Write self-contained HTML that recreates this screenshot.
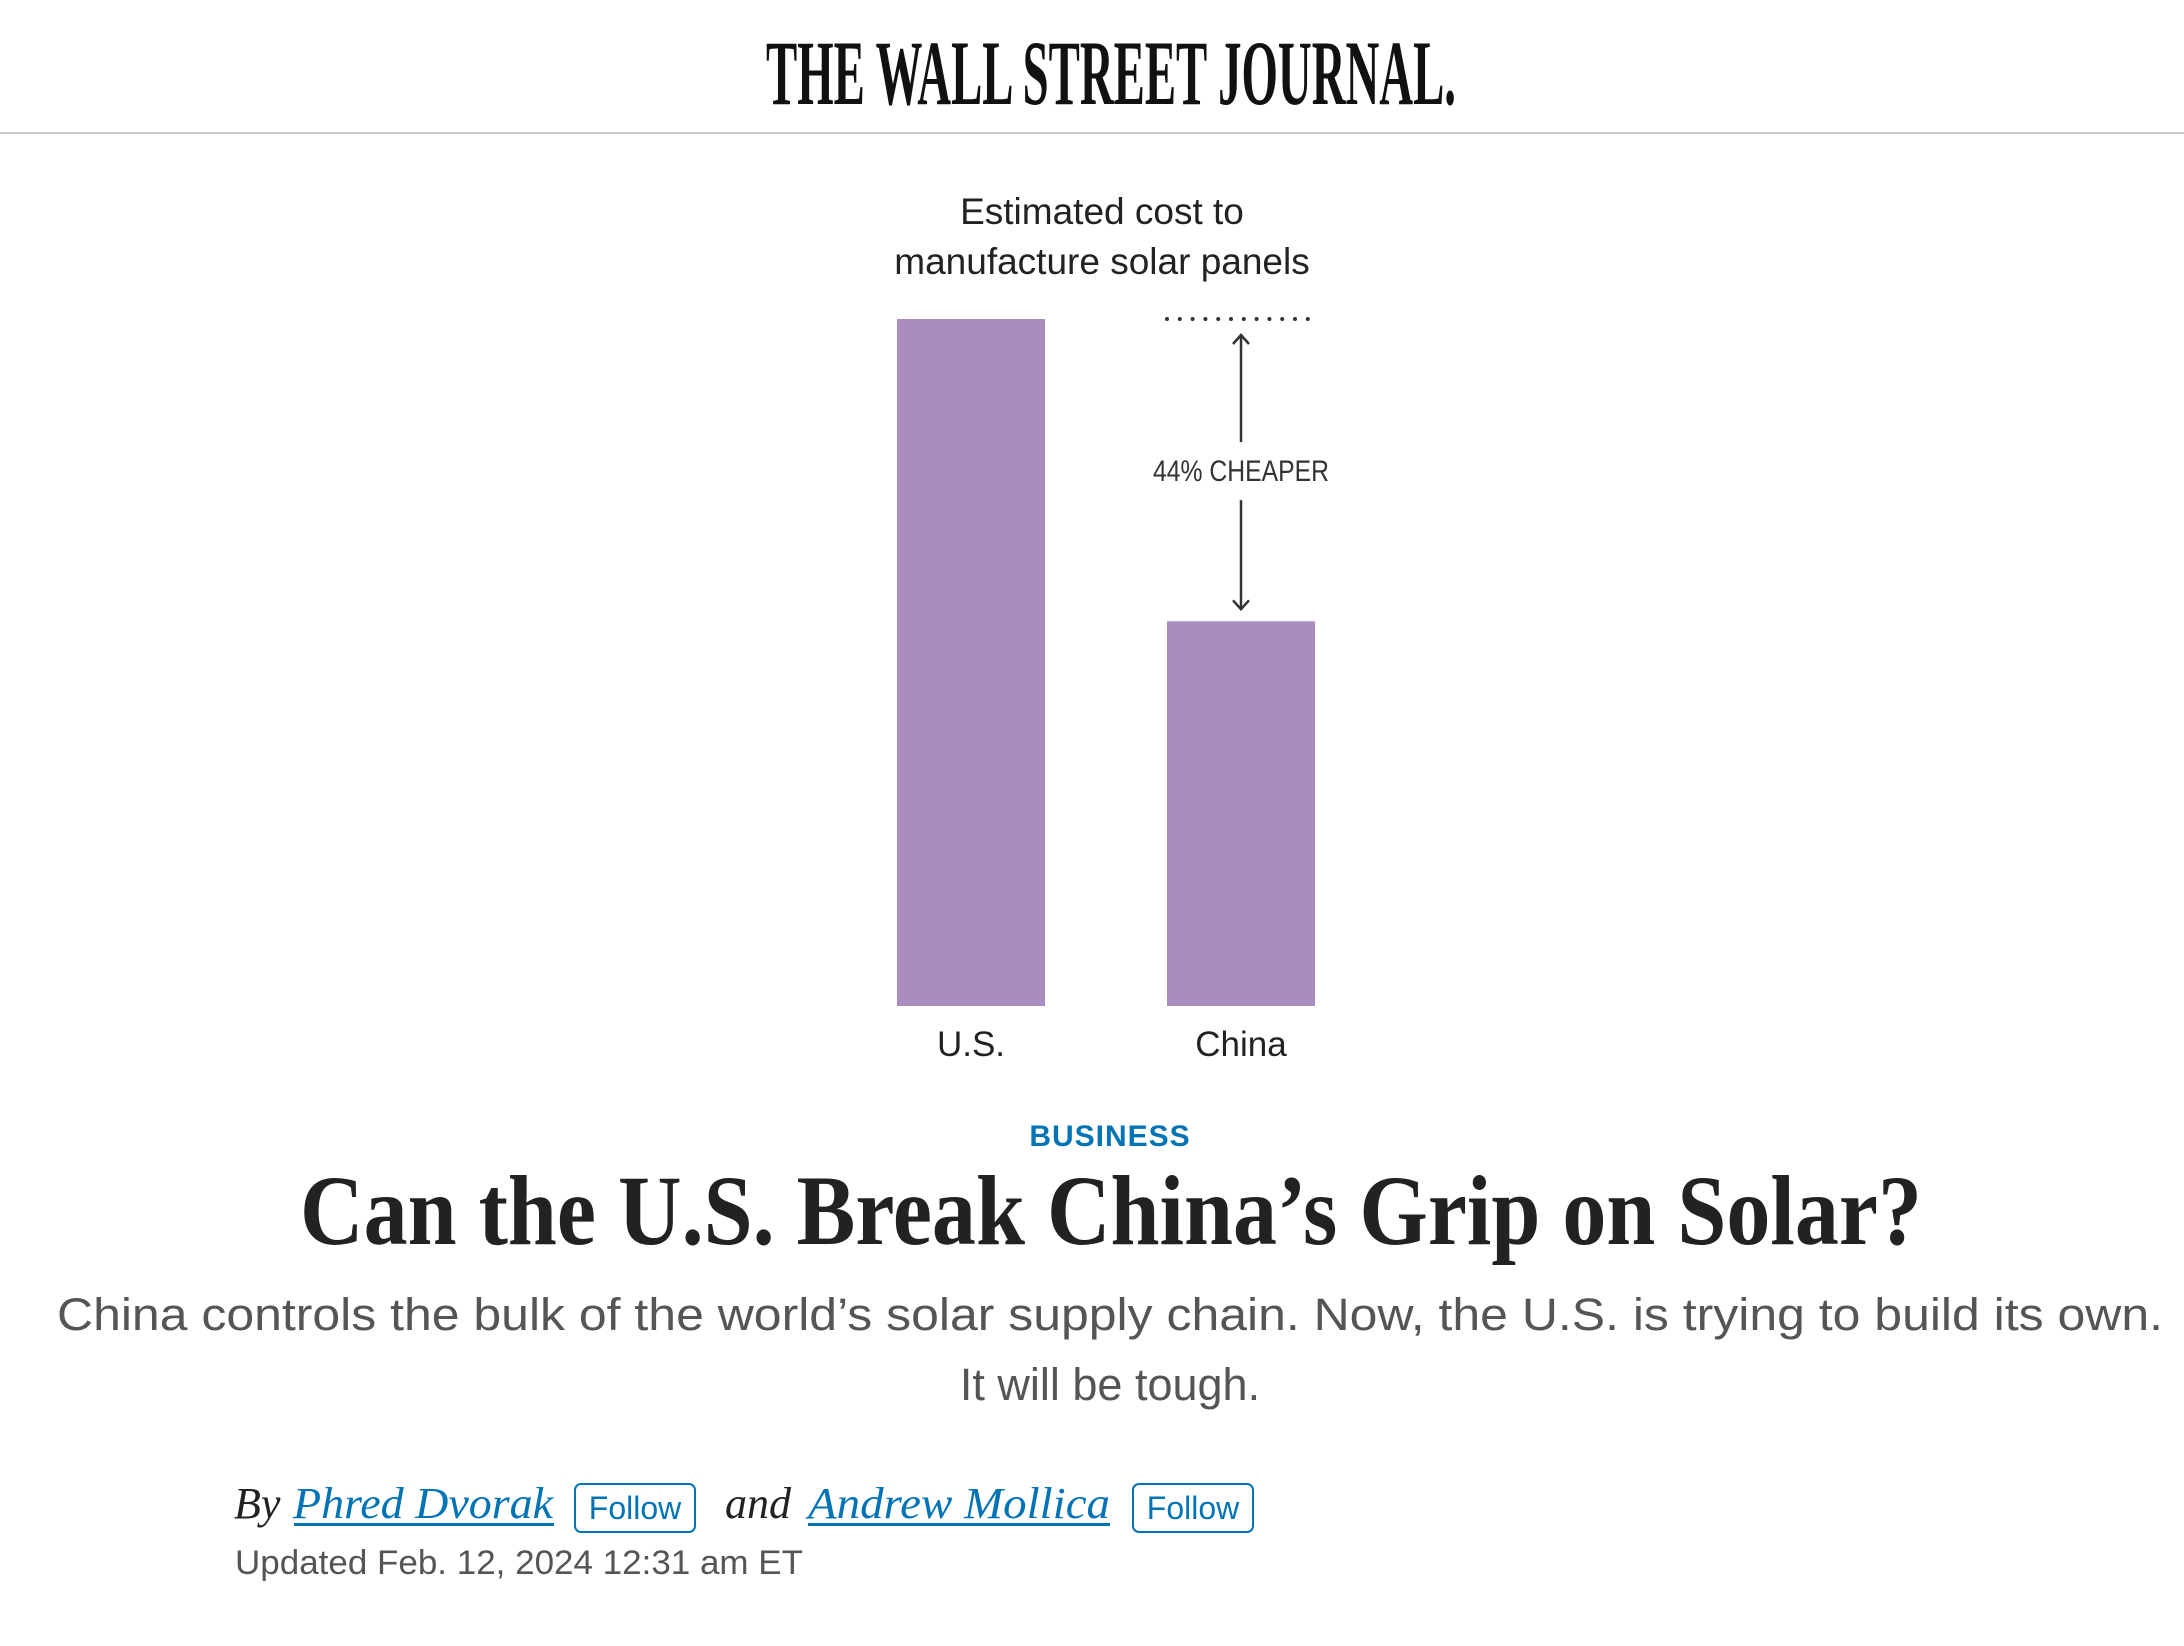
<!DOCTYPE html>
<html><head><meta charset="utf-8">
<style>
html,body{margin:0;padding:0;background:#fff;width:2184px;height:1646px;overflow:hidden}
svg{display:block}
</style></head>
<body>
<svg id="chart" width="2184" height="1646" viewBox="0 0 2184 1646" xmlns="http://www.w3.org/2000/svg">
  <text x="1111" y="104" text-anchor="middle" font-family="Liberation Serif, serif" font-weight="bold" font-size="92" textLength="690" lengthAdjust="spacingAndGlyphs" fill="#111">THE WALL STREET JOURNAL.</text>
  <rect x="0" y="132" width="2184" height="2" fill="#ccc"/>
  <text x="1102" y="224" text-anchor="middle" font-family="Liberation Sans, sans-serif" font-size="37" fill="#222">Estimated cost to</text>
  <text x="1102" y="274" text-anchor="middle" font-family="Liberation Sans, sans-serif" font-size="37" fill="#222">manufacture solar panels</text>
  <g id="bars"></g>
  <text x="1110" y="1146" text-anchor="middle" font-family="Liberation Sans, sans-serif" font-weight="bold" font-size="30" letter-spacing="1" fill="#0274b6">BUSINESS</text>
  <text x="1111" y="1244" text-anchor="middle" font-family="Liberation Serif, serif" font-weight="bold" font-size="100" textLength="1622" lengthAdjust="spacingAndGlyphs" fill="#222">Can the U.S. Break China’s Grip on Solar?</text>
  <text x="1110" y="1330" text-anchor="middle" font-family="Liberation Sans, sans-serif" font-size="45" textLength="2106" lengthAdjust="spacingAndGlyphs" fill="#555">China controls the bulk of the world’s solar supply chain. Now, the U.S. is trying to build its own.</text>
  <text x="1110" y="1400" text-anchor="middle" font-family="Liberation Sans, sans-serif" font-size="45" fill="#555">It will be tough.</text>
  <text x="234" y="1518" font-family="Liberation Serif, serif" font-style="italic" font-size="44" fill="#222">By</text>
  <text x="293" y="1518" font-family="Liberation Serif, serif" font-style="italic" font-size="44" textLength="260" lengthAdjust="spacingAndGlyphs" fill="#0274b6">Phred Dvorak</text>
  <rect x="294" y="1523" width="260" height="3" fill="#0274b6"/>
  <rect x="575" y="1484" width="120" height="48" rx="6" fill="none" stroke="#0274b6" stroke-width="2"/>
  <text x="635" y="1519" text-anchor="middle" font-family="Liberation Sans, sans-serif" font-size="32" fill="#0274b6">Follow</text>
  <text x="725" y="1518" font-family="Liberation Serif, serif" font-style="italic" font-size="44" fill="#222">and</text>
  <text x="808" y="1518" font-family="Liberation Serif, serif" font-style="italic" font-size="44" textLength="302" lengthAdjust="spacingAndGlyphs" fill="#0274b6">Andrew Mollica</text>
  <rect x="808" y="1523" width="302" height="3" fill="#0274b6"/>
  <rect x="1133" y="1484" width="120" height="48" rx="6" fill="none" stroke="#0274b6" stroke-width="2"/>
  <text x="1193" y="1519" text-anchor="middle" font-family="Liberation Sans, sans-serif" font-size="32" fill="#0274b6">Follow</text>
  <text x="235" y="1574" font-family="Liberation Sans, sans-serif" font-size="34" textLength="568" lengthAdjust="spacingAndGlyphs" fill="#555">Updated Feb. 12, 2024 12:31 am ET</text>
</svg>
<script>
const categories = ["U.S.", "China"];
const costValues = [100, 56];
const annotationText = "44% CHEAPER";

const NS = "http://www.w3.org/2000/svg";
const g = document.getElementById("bars");
const baseY = 1006, plotH = 687, maxV = 100;
const yScale = v => baseY - v / maxV * plotH;
const bandStart = 897, bandStep = 270, barW = 148;
const xScale = i => bandStart + i * bandStep;

function mk(tag, attrs) {
  const e = document.createElementNS(NS, tag);
  for (const k in attrs) e.setAttribute(k, attrs[k]);
  g.appendChild(e);
  return e;
}

categories.forEach((c, i) => {
  const v = costValues[i];
  const r = mk("rect", {x: xScale(i), y: yScale(v), width: barW, height: baseY - yScale(v), fill: "#a98dc0"});
  
  
  const t = mk("text", {x: xScale(i) + barW / 2, y: baseY + 50, "text-anchor": "middle", "font-family": "Liberation Sans, sans-serif", "font-size": 35, fill: "#222"});
  t.textContent = c;
  
  
});

const refY = yScale(costValues[0]);
const lowY = yScale(costValues[1]);
const cx = xScale(1) + barW / 2;
const dots = mk("line", {x1: xScale(1), x2: xScale(1) + barW - 6, y1: refY, y2: refY, stroke: "#333", "stroke-width": 4, "stroke-dasharray": "0 12.8", "stroke-linecap": "round"});


const midY = (refY + lowY) / 2;
const up = mk("path", {d: `M${cx},${midY - 28} L${cx},${refY + 16} M${cx - 8},${refY + 25} L${cx},${refY + 16} L${cx + 8},${refY + 25}`, stroke: "#333", "stroke-width": 2.5, fill: "none"});


const down = mk("path", {d: `M${cx},${midY + 30} L${cx},${lowY - 12} M${cx - 8},${lowY - 21} L${cx},${lowY - 12} L${cx + 8},${lowY - 21}`, stroke: "#333", "stroke-width": 2.5, fill: "none"});


const at = mk("text", {x: cx, y: midY + 11, "text-anchor": "middle", "font-family": "Liberation Sans Narrow, Liberation Sans, sans-serif", "font-size": 30, textLength: 176, lengthAdjust: "spacingAndGlyphs", fill: "#333"});
at.textContent = annotationText;


</script>
</body></html>
